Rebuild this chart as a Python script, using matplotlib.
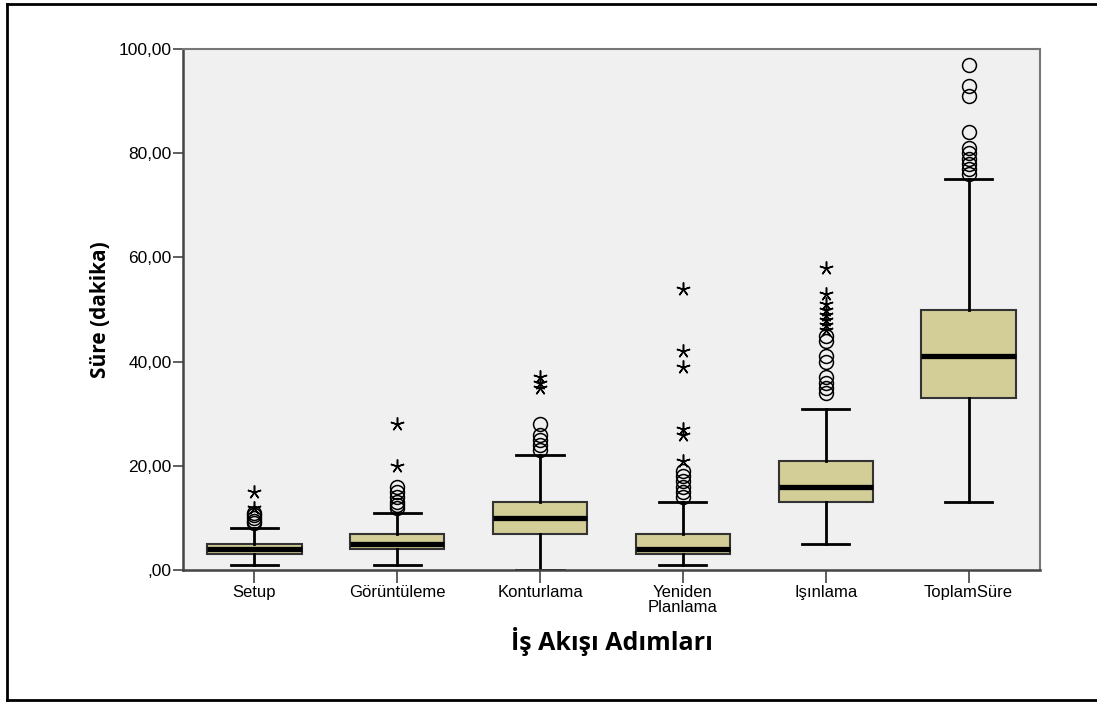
import matplotlib.pyplot as plt
from matplotlib.lines import Line2D

# Values (minutes)
categories = ["Setup", "Görüntüleme", "Konturlama", "Yeniden\nPlanlama", "Işınlama", "ToplamSüre"]
medians = [4, 5, 10, 4, 16, 41]
q1 = [3, 4, 7, 3, 13, 33]
q3 = [5, 7, 13, 7, 21, 50]
whisker_low = [1, 1, 0, 1, 5, 13]
whisker_high = [8, 11, 22, 13, 31, 75]
outliers = [
    [9, 9.5, 10, 10.5, 11],
    [12, 12.5, 13, 14, 15, 16],
    [23, 24, 25, 26, 28],
    [14, 15, 16, 17, 18, 19],
    [34, 35, 36, 37, 40, 41, 44, 45],
    [76, 77, 78, 79, 80, 81, 84, 91, 93, 97],
]
extremes = [
    [12, 15],
    [20, 28],
    [35, 36, 37],
    [21, 26, 27, 39, 42, 54],
    [46, 47, 48, 49, 50, 51, 53, 58],
    [],
]
yticks = [0, 20, 40, 60, 80, 100]
ytick_labels = [",00", "20,00", "40,00", "60,00", "80,00", "100,00"]

plt.rcParams["font.family"] = ["Liberation Sans", "DejaVu Sans"]

fig = plt.figure(figsize=(10.97, 7.02), dpi=100)
ax = fig.add_axes([0.1668, 0.188, 0.7812, 0.742])
ax.set_facecolor("#f0f0f0")

stats = []
for i, name in enumerate(categories):
    stats.append({
        "label": name,
        "med": medians[i],
        "q1": q1[i],
        "q3": q3[i],
        "whislo": whisker_low[i],
        "whishi": whisker_high[i],
        "fliers": outliers[i],
    })

pos = list(range(len(categories)))
ax.bxp(stats, positions=pos, widths=0.66, capwidths=0.33, patch_artist=True,
       boxprops=dict(facecolor="#d3ce97", edgecolor="#333333", linewidth=1.5),
       medianprops=dict(color="black", linewidth=3.8, solid_capstyle="butt"),
       whiskerprops=dict(color="black", linewidth=2),
       capprops=dict(color="black", linewidth=2),
       flierprops=dict(marker="o", markerfacecolor="none", markeredgecolor="black",
                       markersize=10, markeredgewidth=1.1, linestyle="none"))

for i, vals in enumerate(extremes):
    if vals:
        ax.plot([pos[i]] * len(vals), vals, linestyle="none", marker=(5, 2, 0),
                markersize=10, color="black", markeredgewidth=1.1)

ax.set_xlim(-0.5, len(categories) - 0.5)
ax.set_ylim(0, 100)
ax.set_yticks(yticks)
ax.set_yticklabels(ytick_labels)
ax.set_xticks(pos)
ax.set_xticklabels(categories, fontsize=12, linespacing=0.95)
ax.tick_params(axis="y", labelsize=12.5, length=7, width=1.2, color="#444444", pad=1)
ax.tick_params(axis="x", length=9, width=1.2, color="#444444", pad=2)

for side in ["left", "bottom"]:
    ax.spines[side].set_color("#444444")
    ax.spines[side].set_linewidth(1.8)
for side in ["top", "right"]:
    ax.spines[side].set_color("#777777")
    ax.spines[side].set_linewidth(1.5)

ax.set_ylabel("Süre (dakika)", fontsize=15, fontweight="bold",
              family=["Open Sans", "DejaVu Sans"], labelpad=6)
ax.set_xlabel("İş Akışı Adımları", fontsize=18, fontweight="bold",
              family=["Open Sans", "DejaVu Sans"], labelpad=9)

# outer frame
w, h = 1097, 702
fig.add_artist(Line2D([7 / w, 7 / w], [1 - 4 / h, 1 - 700 / h], color="black", linewidth=2))
fig.add_artist(Line2D([7 / w, 1.0], [1 - 4 / h, 1 - 4 / h], color="black", linewidth=2))
fig.add_artist(Line2D([7 / w, 1.0], [1 - 700 / h, 1 - 700 / h], color="black", linewidth=2))

fig.savefig("out.png", dpi=100)
